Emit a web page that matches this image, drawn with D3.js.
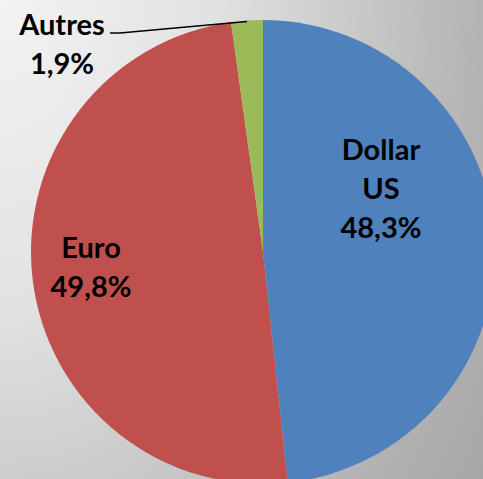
<!DOCTYPE html>
<html>
<head>
<meta charset="utf-8">
<script src="https://cdn.jsdelivr.net/npm/d3@7"></script>
<style>
  html, body { margin: 0; padding: 0; background: #fff; }
  svg { display: block; }
</style>
</head>
<body>
<svg id="chart" width="483" height="479"></svg>
<script>
const categories = ["Dollar US", "Euro", "Autres"];
// slice sizes as drawn in the picture (labels below carry the printed figures)
const shares = [48.3, 49.5, 2.2];
const labelLines = [["Dollar", "US", "48,3%"], ["Euro", "49,8%"], ["Autres", "1,9%"]];
const sliceColors = ["#4F81BD", "#C0504D", "#9BBB59"];

const WIDTH = 483;
const HEIGHT = 479;
const CX = 263;
const CY = 252;
const RADIUS = 232;

const svg = d3.select("#chart");

// background: soft grey sweep from the top-left corner
const defs = svg.append("defs");
const bg = defs
  .append("radialGradient")
  .attr("id", "bg")
  .attr("gradientUnits", "userSpaceOnUse")
  .attr("cx", 0)
  .attr("cy", 0)
  .attr("r", 700)
  .attr("gradientTransform", "scale(1,1.45)");
bg.append("stop").attr("offset", 0).attr("stop-color", "#f3f3f3");
bg.append("stop").attr("offset", 0.3).attr("stop-color", "#e2e2e2");
bg.append("stop").attr("offset", 0.69).attr("stop-color", "#b3b3b3");
bg.append("stop").attr("offset", 1).attr("stop-color", "#999999");

svg.append("rect").attr("width", WIDTH).attr("height", HEIGHT).attr("fill", "url(#bg)");

const data = categories.map((name, i) => ({ name, value: shares[i], lines: labelLines[i], color: sliceColors[i] }));

const pie = d3.pie().sort(null).value((d) => d.value);
const arcs = pie(data);
const arc = d3.arc().innerRadius(0).outerRadius(RADIUS);

const g = svg.append("g").attr("transform", `translate(${CX},${CY})`);

g.selectAll("path.slice")
  .data(arcs)
  .join("path")
  .attr("class", "slice")
  .attr("d", arc)
  .attr("fill", (d) => d.data.color);

// label anchor points (centre of the text block, relative to pie centre)
const labelPos = [
  { x: 118, y: -63 },
  { x: -172, y: 15 },
  { x: -201, y: -208 },
];
const lineHeight = 39;

const labels = g
  .selectAll("text.label")
  .data(arcs)
  .join("text")
  .attr("class", "label")
  .attr("text-anchor", "middle")
  .attr("font-family", "Lato, 'Open Sans', sans-serif")
  .attr("font-weight", 700)
  .attr("font-size", 29)
  .attr("fill", "#000");

labels.each(function (d, i) {
  const lines = d.data.lines;
  const p = labelPos[i];
  const top = p.y - ((lines.length - 1) * lineHeight) / 2;
  d3.select(this)
    .selectAll("tspan")
    .data(lines)
    .join("tspan")
    .attr("x", p.x)
    .attr("y", (_l, k) => top + k * lineHeight)
    .attr("dy", "0.35em")
    .text((l) => l);
});

// leader line for the small slice
const small = arcs[2];
const mid = (small.startAngle + small.endAngle) / 2;
const edge = [Math.sin(mid) * (RADIUS - 1), -Math.cos(mid) * (RADIUS - 1)];
g.append("polyline")
  .attr("points", [[-153, -219], [-143, -219], edge].map((p) => p.join(",")).join(" "))
  .attr("fill", "none")
  .attr("stroke", "#000")
  .attr("stroke-width", 1.5);
</script>
</body>
</html>
